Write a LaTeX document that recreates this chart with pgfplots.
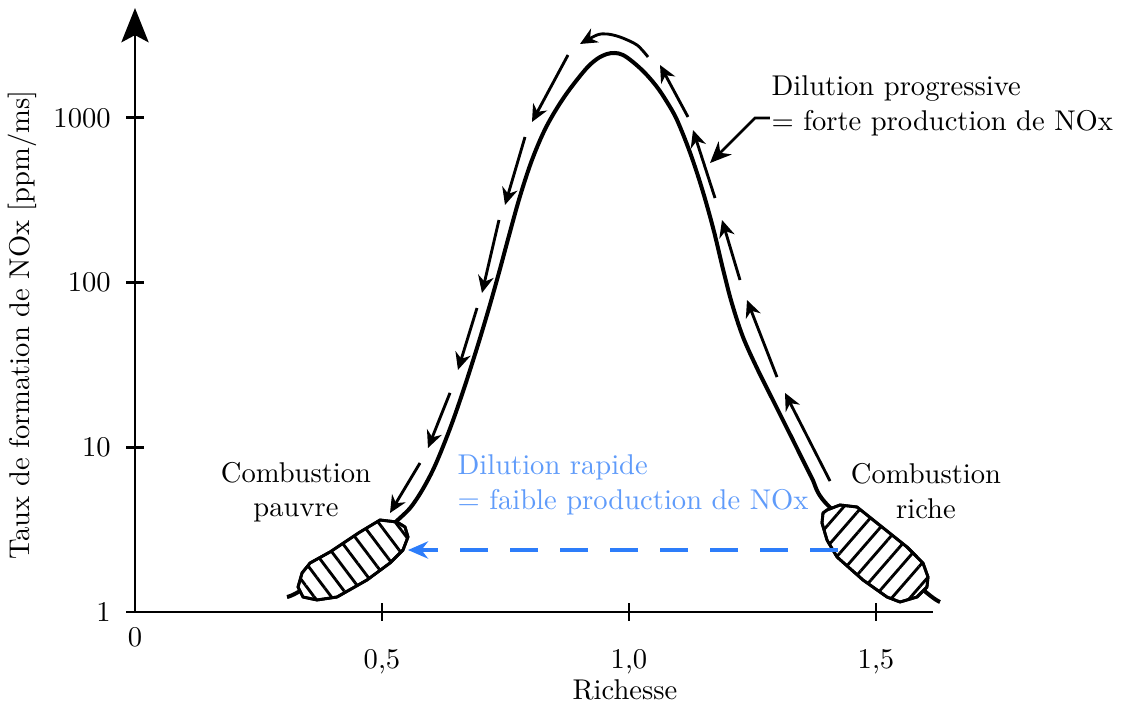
\documentclass[border=0pt]{standalone}
\usepackage{pgfplots}
\pgfplotsset{compat=1.18}
\usetikzlibrary{arrows.meta,patterns.meta}
\definecolor{bline}{RGB}{45,125,250}
\definecolor{btext}{RGB}{95,155,250}
\begin{document}
\begin{tikzpicture}
\useasboundingbox (-47.25pt,-32.2pt) rectangle (346.15pt,214.2pt);
\begin{axis}[
  scale only axis, width=279.3pt, height=211.4pt,
  xmin=0, xmax=1.6154, ymin=1, ymax=4649, ymode=log,
  axis lines=left,
  axis line style={line width=1pt},
  x axis line style={-},
  y axis line style={-{Stealth[length=12pt,width=9.5pt,inset=2.5pt]}},
  major tick style={line width=1pt, black},
  major tick length=6pt,
  xtick={0.5,1,1.5}, xticklabels={0{,}5,1{,}0,1{,}5},
  xticklabel style={yshift=-6.5pt},
  ytick={1,10,100,1000}, yticklabels={1,10,100,1000},
  yticklabel style={xshift=-2pt},
  yminorticks=false, xminorticks=false,
  clip=false,
]
% main curve
\addplot[line width=1.4pt, smooth, tension=0.55, line join=round] coordinates {
(0.3077,1.233)(0.3340,1.341)(0.4352,2.069)(0.5364,3.722)(0.5688,4.786)
(0.6032,7.28)(0.6366,12.74)(0.6650,22.28)(0.6929,40.64)(0.7172,71.1)
(0.7383,119.3)(0.7563,189.2)(0.7789,330.9)(0.8036,555.2)(0.8324,880.8)
(0.8688,1339)(0.9109,1953)(0.9352,2279)(0.9555,2443)(0.9717,2478)
(0.9879,2409)(1.0081,2184)(1.0324,1874)(1.0567,1540)(1.0769,1249)
(1.0972,971)(1.1239,612.3)(1.1486,365)(1.1713,208.6)(1.1907,119.3)
(1.2081,75.2)(1.2308,46.7)(1.2609,29.46)(1.2943,18.58)(1.3348,10.62)
(1.3692,6.60)(1.3982,4.59)(1.5081,2.314)(1.6032,1.304)(1.6296,1.150)};
% top arc arrow
\addplot[line width=1pt, smooth, -{Stealth[length=6pt,width=5.5pt]}] coordinates {
(1.0385,2343)(1.0162,2771)(0.9818,3099)(0.9555,3232)(0.9352,3187)(0.9008,2810)};
% left descending arrows
\addplot[line width=1pt, -{Stealth[length=6pt,width=5.5pt]}] coordinates {(0.8765,2409)(0.8036,944.4)};
\addplot[line width=1pt, -{Stealth[length=6pt,width=5.5pt]}] coordinates {(0.7895,765.8)(0.7490,296)};
\addplot[line width=1pt, -{Stealth[length=6pt,width=5.5pt]}] coordinates {(0.7368,240)(0.7024,86.5)};
\addplot[line width=1pt, -{Stealth[length=6pt,width=5.5pt]}] coordinates {(0.6923,70.1)(0.6538,29.5)};
\addplot[line width=1pt, -{Stealth[length=6pt,width=5.5pt]}] coordinates {(0.6377,21.4)(0.5931,9.90)};
\addplot[line width=1pt, -{Stealth[length=6pt,width=5.5pt]}] coordinates {(0.5769,8.03)(0.5162,3.99)};
% right ascending arrows
\addplot[line width=1pt, -{Stealth[length=6pt,width=5.5pt]}] coordinates {(1.4069,6.24)(1.3158,21.4)};
\addplot[line width=1pt, -{Stealth[length=6pt,width=5.5pt]}] coordinates {(1.2996,26.7)(1.2389,78.4)};
\addplot[line width=1pt, -{Stealth[length=6pt,width=5.5pt]}] coordinates {(1.2247,103.7)(1.1883,240)};
\addplot[line width=1pt, -{Stealth[length=6pt,width=5.5pt]}] coordinates {(1.1741,326.3)(1.1296,844.5)};
\addplot[line width=1pt, -{Stealth[length=6pt,width=5.5pt]}] coordinates {(1.1194,1013)(1.0628,2095)};
% annotation arrow
\addplot[line width=0.9pt, -{Stealth[length=7.5pt,width=6.5pt]}] coordinates {(1.2854,998.6)(1.2551,998.6)(1.1640,532)};
% blobs
\addplot[line width=1pt, fill=white, line join=round,
  postaction={pattern={Lines[angle=-53,distance=4.8pt,line width=1pt]}}] coordinates {
(0.3300,1.418)(0.3401,1.233)(0.3684,1.183)(0.4089,1.233)(0.4696,1.564)
(0.5162,1.984)(0.5425,2.379)(0.5526,2.854)(0.5466,3.282)(0.5304,3.519)
(0.4960,3.619)(0.4555,3.060)(0.3947,2.314)(0.3543,1.984)(0.3381,1.725)} --cycle;
\addplot[line width=1pt, fill=white, line join=round,
  postaction={pattern={Lines[angle=49,distance=4.8pt,line width=1pt]}}] coordinates {
(1.4008,4.163)(1.4271,4.464)(1.4615,4.341)(1.5020,3.470)(1.5628,2.481)
(1.5951,1.984)(1.6053,1.631)(1.6032,1.418)(1.5830,1.233)(1.5486,1.150)
(1.5223,1.233)(1.4737,1.564)(1.4211,2.158)(1.4008,2.736)(1.3907,3.470)
(1.3927,3.991)} --cycle;
% blue dashed arrow
\addplot[bline, line width=1.4pt, dash pattern=on 9.8pt off 7.7pt,
  -{Stealth[length=7pt,width=6pt]}] coordinates {(1.4231,2.379)(0.5526,2.379)};
% texts
\node[align=center] at (axis cs:0.3259,5.354) {Combustion\\pauvre};
\node[align=center] at (axis cs:1.6012,5.429) {Combustion\\riche};
\node[align=left, anchor=west, text=btext, inner sep=0pt] at (axis cs:0.6518,5.904) {Dilution rapide\\= faible production de NOx};
\node[align=left, anchor=west, inner sep=0pt] at (axis cs:1.2874,1181) {Dilution progressive\\= forte production de NOx};
\node[rotate=90] at (axis cs:-0.2287,55.3) {Taux de formation de NOx [ppm/ms]};
\node at (axis cs:0.9919,0.336) {Richesse};
\node at (axis cs:0,0.705) {0};
\end{axis}
\end{tikzpicture}
\end{document}
